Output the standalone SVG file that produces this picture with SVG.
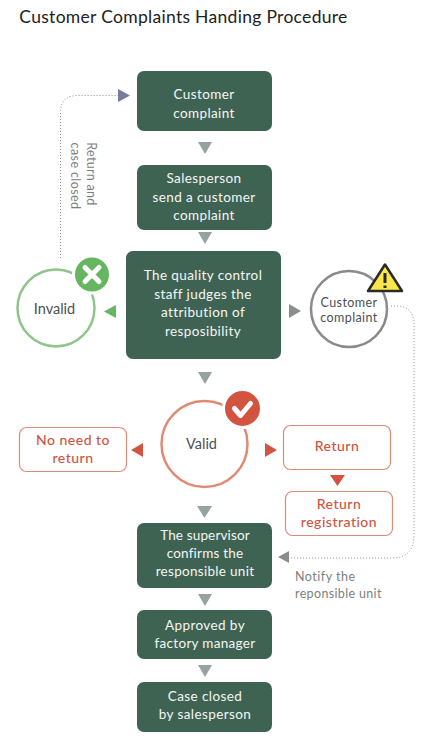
<svg xmlns="http://www.w3.org/2000/svg" width="421" height="753" viewBox="0 0 421 753">
<style>
text{font-family:"Lato","Open Sans",sans-serif;text-anchor:middle}
.g rect{fill:#3f6353}
.g text{fill:#f4f7f5;font-size:13.5px;letter-spacing:.4px}
.r rect{fill:#fff;stroke:#dd8b78;stroke-width:1.2}
.r text{fill:#d2533f;font-size:14px;font-weight:500;letter-spacing:.5px}
.c text{fill:#4b4f52;font-size:14.5px}
.n{fill:#fff;stroke-width:2.5}
.dot{fill:none;stroke:#8a8d8f;stroke-width:1;stroke-dasharray:1 2}
.lbl{fill:#7c7f81;font-size:12.5px;letter-spacing:.3px}
.ag{fill:#96a39c}
.ar{fill:#d2533f}
</style>
<rect width="421" height="753" fill="#fff"/>
<text id="title" x="183.500" y="23" style="font-size:17.500px;fill:#222;letter-spacing:.3px">Customer Complaints Handing Procedure</text>
<g id="connectors">
<path class="dot" d="M60.500 258V112Q60.500 95.500 78 95.500H118"/>
<path class="dot" d="M391 306H396Q414 306 414 325V535Q414 558 392 558H290"/>
<polygon points="118,89 130,95.500 118,102" fill="#767c9b"/>
<polygon class="ag" points="198,142 212,142 205,154"/>
<polygon class="ag" points="198,232 212,232 205,244"/>
<polygon points="116,305 104,311.500 116,318" fill="#66b561"/>
<polygon points="289,304 301,311 289,318" fill="#8a8d8f"/>
<polygon class="ag" points="198,372 212,372 205,384"/>
<polygon class="ar" points="143,443 131,450 143,457"/>
<polygon class="ar" points="265,443 277,450 265,457"/>
<polygon class="ar" points="330,475 345,475 337.500,486"/>
<polygon class="ag" points="197,506 212,506 204.500,518"/>
<polygon class="ag" points="198,594 212,594 205,606"/>
<polygon class="ag" points="198,665 212,665 205,677"/>
<polygon points="289,551 278,557 289,563" fill="#8a8d8f"/>
<text class="lbl" transform="translate(87,142) rotate(90)" x="32" y="0">Return and</text>
<text class="lbl" transform="translate(71,142) rotate(90)" x="34" y="0" style="letter-spacing:.4px">case closed</text>
<text class="lbl" x="295" y="581" style="text-anchor:start;letter-spacing:.5px">Notify the</text>
<text class="lbl" x="295" y="598" style="text-anchor:start;letter-spacing:.35px">reponsible unit</text>
</g>
<g id="n1" class="g"><rect x="137" y="71" width="135" height="60" rx="7"/><text x="204" y="99">Customer</text><text x="204" y="118">complaint</text></g>
<g id="n2" class="g"><rect x="137" y="165" width="135" height="65" rx="7"/><text x="204" y="183">Salesperson</text><text x="204" y="202">send a customer</text><text x="204" y="220">complaint</text></g>
<g id="n3" class="g"><rect x="126" y="251" width="155" height="108" rx="7"/><text x="203" y="280">The quality control</text><text x="203" y="299">staff judges the</text><text x="203" y="317">attribution of</text><text x="203" y="336">resposibility</text></g>
<g id="invalid" class="c"><circle class="n" cx="56" cy="308" r="38.500" stroke="#8fc48a"/><text x="54.500" y="314">Invalid</text>
<circle cx="92" cy="274.500" r="18.500" fill="#66b561" stroke="#fff" stroke-width="3"/><path d="M85 267.500L99 281.500M99 267.500L85 281.500" stroke="#fff" stroke-width="5" stroke-linecap="round"/></g>
<g id="warn" class="c"><circle class="n" cx="349" cy="309" r="38" stroke="#8a8a8a"/><text x="349" y="307" style="font-size:12.500px;letter-spacing:.4px">Customer</text><text x="349" y="322" style="font-size:12.500px;letter-spacing:.4px">complaint</text>
<polygon points="385,264.500 402,291 368,291" fill="#fbe64b" stroke="#2a2a2a" stroke-width="2.500" stroke-linejoin="round"/><path d="M385 273V283M385 285.500V288" stroke="#2a2a2a" stroke-width="3"/></g>
<g id="valid" class="c"><circle class="n" cx="204.500" cy="444" r="43" stroke="#e08a76"/><text x="201.500" y="449">Valid</text>
<circle cx="242.500" cy="408.500" r="19" fill="#d2533f" stroke="#fff" stroke-width="3"/><path d="M234.500 408.500L240.500 415.500L250.500 403.500" fill="none" stroke="#fff" stroke-width="5" stroke-linecap="round" stroke-linejoin="round"/></g>
<g id="noneed" class="r"><rect x="19.500" y="427.500" width="107" height="44" rx="7"/><text x="73" y="445">No need to</text><text x="73" y="463">return</text></g>
<g id="return" class="r"><rect x="283.500" y="425.500" width="107" height="44" rx="7"/><text x="337" y="451">Return</text></g>
<g id="reg" class="r"><rect x="285.500" y="491.500" width="107" height="44" rx="7"/><text x="339" y="509">Return</text><text x="339" y="527">registration</text></g>
<g id="n4" class="g"><rect x="137" y="523" width="135" height="65" rx="7"/><text x="205" y="540" style="letter-spacing:.15px">The supervisor</text><text x="205" y="558" style="letter-spacing:.2px">confirms the</text><text x="205" y="576" style="letter-spacing:.3px">responsible unit</text></g>
<g id="n5" class="g"><rect x="137" y="610" width="135" height="49" rx="7"/><text x="205" y="630">Approved by</text><text x="205" y="648" style="letter-spacing:.3px">factory manager</text></g>
<g id="n6" class="g"><rect x="137" y="682" width="135" height="50" rx="7"/><text x="205" y="701">Case closed</text><text x="205" y="719">by salesperson</text></g>
</svg>
